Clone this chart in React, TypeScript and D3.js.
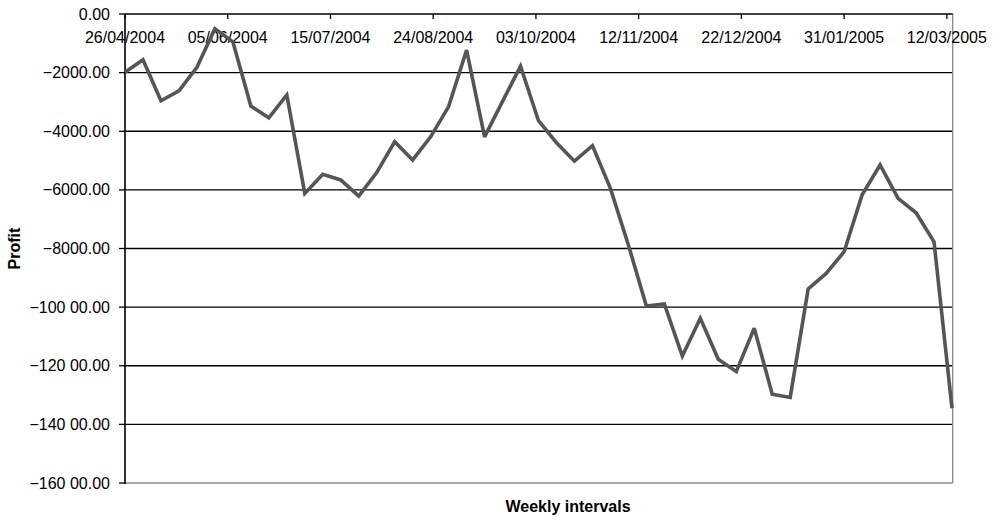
import React from "react";
import * as d3 from "d3";

const startDate = "26/04/2004";
const endDate = "14/03/2005";
const xTickLabels = [
  "26/04/2004", "05/06/2004", "15/07/2004", "24/08/2004", "03/10/2004",
  "12/11/2004", "22/12/2004", "31/01/2005", "12/03/2005",
];
const yTickValues = [0, -2000, -4000, -6000, -8000, -10000, -12000, -14000, -16000];
const yTickLabels = [
  "0.00", "\u22122000.00", "\u22124000.00", "\u22126000.00", "\u22128000.00",
  "\u2212100 00.00", "\u2212120 00.00", "\u2212140 00.00", "\u2212160 00.00",
];
const profit = [
  -1990, -1560, -2960, -2620, -1820, -500, -950, -3140, -3540, -2760,
  -6120, -5470, -5660, -6210, -5410, -4360, -4980, -4190, -3160, -1230,
  -4190, -2980, -1780, -3640, -4390, -5020, -4490, -5950, -7880, -9960,
  -9890, -11670, -10380, -11780, -12200, -10720, -12970, -13080, -9380, -8850,
  -8110, -6170, -5150, -6290, -6780, -7770, -13450,
];

const W = 998, H = 519;
const left = 125, right = 952, top = 14, bottom = 483;
const parse = d3.utcParse("%d/%m/%Y");

export default function App() {
  const start = parse(startDate) as Date;
  const end = parse(endDate) as Date;
  const x = d3.scaleUtc().domain([start, end]).range([left, right]);
  const y = d3.scaleLinear().domain([0, -16000]).range([top, bottom]);
  const pts = profit.map((v, i) => ({ d: d3.utcDay.offset(start, i * 7), v }));
  const line = d3.line<{ d: Date; v: number }>().x((p) => x(p.d)).y((p) => y(p.v));
  const font = "Liberation Sans, Arial, Helvetica, sans-serif";
  return (
    <svg width={W} height={H} style={{ position: "absolute", left: 0, top: 0 }}>
      <rect x={0} y={0} width={W} height={H} fill="#fff" />
      {/* gridlines */}
      {yTickValues.slice(1, -1).map((v) => (
        <line key={v} x1={left} x2={right} y1={y(v)} y2={y(v)} stroke="#000" strokeWidth={1.3} />
      ))}
      {/* bottom and right border */}
      <line x1={left} x2={right + 0.7} y1={bottom} y2={bottom} stroke="#888" strokeWidth={1.3} />
      <line x1={right + 0.7} x2={right + 0.7} y1={top} y2={bottom} stroke="#888" strokeWidth={1.3} />
      {/* y axis */}
      <line x1={left} x2={left} y1={top} y2={bottom + 1} stroke="#000" strokeWidth={1.6} />
      {yTickValues.map((v, i) => (
        <g key={v}>
          <line x1={left - 6} x2={left} y1={y(v)} y2={y(v)} stroke="#000" strokeWidth={1.3} />
          <text x={110} y={y(v)} dy="0.35em" textAnchor="end" fontFamily={font} fontSize={16} fill="#000">
            {yTickLabels[i]}
          </text>
        </g>
      ))}
      {/* x axis at top (value 0) */}
      <line x1={left} x2={right + 0.7} y1={top} y2={top} stroke="#000" strokeWidth={1.6} />
      {xTickLabels.map((lab) => {
        const xx = x(parse(lab) as Date);
        return (
          <g key={lab}>
            <line x1={xx} x2={xx} y1={top} y2={top + 5} stroke="#000" strokeWidth={1.3} />
            <text x={xx} y={43} textAnchor="middle" fontFamily={font} fontSize={16} fill="#000">
              {lab}
            </text>
          </g>
        );
      })}
      {/* data line */}
      <path d={line(pts) ?? ""} fill="none" stroke="#555555" strokeWidth={3.6} strokeLinejoin="miter" strokeMiterlimit={3} />
      {/* axis titles */}
      <text x={568} y={512} textAnchor="middle" fontFamily={font} fontSize={16} fontWeight="bold" fill="#000">
        Weekly intervals
      </text>
      <text transform={`translate(20,${(top + bottom) / 2}) rotate(-90)`} textAnchor="middle" fontFamily={font} fontSize={16} fontWeight="bold" fill="#000">
        Profit
      </text>
    </svg>
  );
}
